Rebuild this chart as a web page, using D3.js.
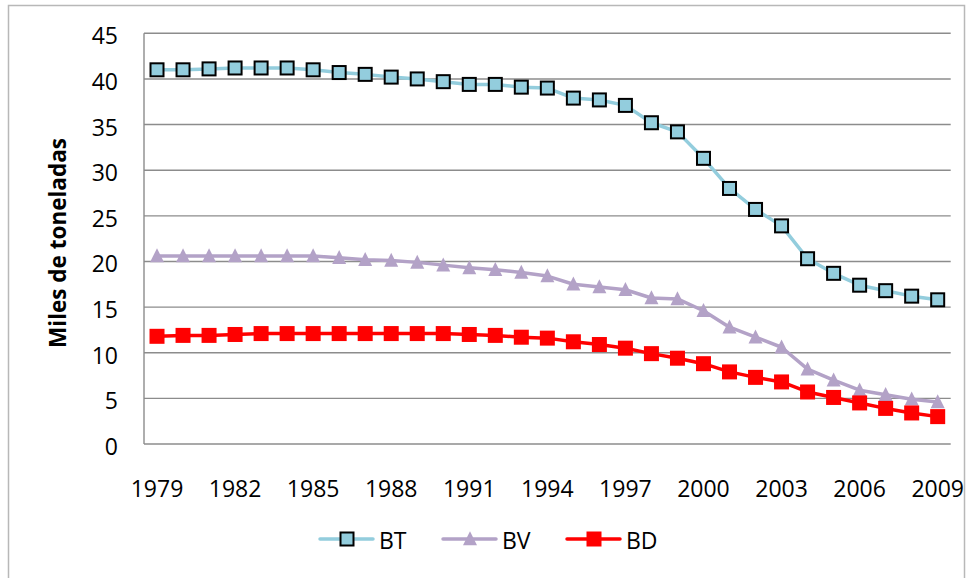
<!DOCTYPE html>
<html>
<head>
<meta charset="utf-8">
<script src="https://cdn.jsdelivr.net/npm/d3@7"></script>
<style>
  body { margin: 0; background: #fff; }
  svg text { font-family: "Open Sans", sans-serif; fill: #000; }
</style>
</head>
<body>
<div id="chart"></div>
<script>
// years on the category axis
var years = d3.range(1979, 2010);

// series values (miles de toneladas)
var bt = [41.0, 41.0, 41.1, 41.2, 41.2, 41.2, 41.0, 40.7, 40.5, 40.2, 40.0, 39.7, 39.4,
          39.4, 39.1, 39.0, 37.9, 37.7, 37.1, 35.2, 34.2, 31.3, 28.0, 25.7, 23.9,
          20.3, 18.7, 17.4, 16.8, 16.2, 15.8];
var bv = [20.6, 20.6, 20.6, 20.6, 20.6, 20.6, 20.6, 20.4, 20.2, 20.1, 19.9, 19.6, 19.3,
          19.1, 18.8, 18.4, 17.5, 17.2, 16.9, 16.0, 15.9, 14.6, 12.8, 11.7, 10.6,
          8.2, 7.0, 5.9, 5.4, 4.9, 4.6];
var bd = [11.8, 11.9, 11.9, 12.0, 12.1, 12.1, 12.1, 12.1, 12.1, 12.1, 12.1, 12.1, 12.0,
          11.9, 11.7, 11.6, 11.2, 10.9, 10.5, 9.9, 9.4, 8.8, 7.9, 7.3, 6.8,
          5.7, 5.1, 4.5, 3.9, 3.4, 3.0];

var yTicks = [0, 5, 10, 15, 20, 25, 30, 35, 40, 45];
var xLabels = years.filter(function(d){ return (d - 1979) % 3 == 0; });

var seriesNames = ['BT', 'BV', 'BD'];

var W = 969, H = 578;

var svg = d3.select('#chart').append('svg')
    .attr('width', W)
    .attr('height', H);

// outer chart border
svg.append('rect')
    .attr('x', 8.5).attr('y', 5.5)
    .attr('width', 956).attr('height', 580)
    .attr('fill', '#fff')
    .attr('stroke', '#b8b8b8')
    .attr('stroke-width', 1.5);

var x = d3.scaleBand().domain(years).range([144, 950.7]);
var y = d3.scaleLinear().domain([0, 45]).range([444, 33.3]);

function cx(d){ return x(d) + x.bandwidth() / 2; }

// gridlines
svg.append('g')
    .selectAll('line')
    .data(yTicks)
    .enter().append('line')
        .attr('x1', 144).attr('x2', 950.7)
        .attr('y1', function(d){ return y(d); })
        .attr('y2', function(d){ return y(d); })
        .attr('stroke', '#8c8c8c')
        .attr('stroke-width', 1.4);

// left axis line
svg.append('line')
    .attr('x1', 144).attr('x2', 144)
    .attr('y1', y(45)).attr('y2', y(0))
    .attr('stroke', '#8c8c8c')
    .attr('stroke-width', 1.4);

// y tick labels
svg.append('g')
    .selectAll('text')
    .data(yTicks)
    .enter().append('text')
        .attr('x', 118)
        .attr('y', function(d){ return y(d) + 2; })
        .attr('text-anchor', 'end')
        .attr('dominant-baseline', 'central')
        .attr('font-size', 23)
        .text(function(d){ return d; });

// x tick labels
svg.append('g')
    .selectAll('text')
    .data(xLabels)
    .enter().append('text')
        .attr('x', function(d){ return cx(d); })
        .attr('y', 497)
        .attr('text-anchor', 'middle')
        .attr('font-size', 23)
        .text(function(d){ return d; });

// axis title
svg.append('text')
    .attr('transform', 'translate(66,243) rotate(-90)')
    .attr('text-anchor', 'middle')
    .attr('font-size', 22.5)
    .attr('font-weight', 'bold')
    .text('Miles de toneladas');

var styles = {
    BT: { data: bt, color: '#93cddd', marker: 'square', fill: '#93cddd', stroke: '#000', size: 13 },
    BV: { data: bv, color: '#b3a2c7', marker: 'triangle', fill: '#b3a2c7', stroke: 'none', size: 14 },
    BD: { data: bd, color: '#ff0000', marker: 'square', fill: '#ff0000', stroke: 'none', size: 15 }
};

var line = d3.line()
    .x(function(d){ return cx(d.year); })
    .y(function(d){ return y(d.value); });

function drawMarker(g, s, px, py){
    if(s.marker == 'square'){
        g.append('rect')
            .attr('x', px - s.size / 2).attr('y', py - s.size / 2)
            .attr('width', s.size).attr('height', s.size)
            .attr('fill', s.fill)
            .attr('stroke', s.stroke)
            .attr('stroke-width', s.stroke == 'none' ? 0 : 2);
    } else{
        var h = s.size;
        g.append('path')
            .attr('d', 'M' + px + ',' + (py - h * 0.55) + 'L' + (px + h / 2) + ',' + (py + h * 0.45) +
                       'L' + (px - h / 2) + ',' + (py + h * 0.45) + 'Z')
            .attr('fill', s.fill);
    }
}

// series lines and markers
seriesNames.forEach(function(name){
    var s = styles[name];
    var pts = years.map(function(yr, i){ return { year: yr, value: s.data[i] }; });
    var g = svg.append('g');
    g.append('path')
        .attr('d', line(pts))
        .attr('fill', 'none')
        .attr('stroke', s.color)
        .attr('stroke-width', 3.5)
        .attr('stroke-linejoin', 'round');
    pts.forEach(function(p){ drawMarker(g, s, cx(p.year), y(p.value)); });
});

// legend
var legendX = { BT: 320, BV: 443, BD: 567 };
seriesNames.forEach(function(name){
    var s = styles[name];
    var g = svg.append('g');
    var lx = legendX[name], ly = 539;
    g.append('line')
        .attr('x1', lx).attr('x2', lx + 53)
        .attr('y1', ly).attr('y2', ly)
        .attr('stroke', s.color)
        .attr('stroke-width', 3.5)
        .attr('stroke-linecap', 'round');
    drawMarker(g, s, lx + 27, ly);
    g.append('text')
        .attr('x', lx + 59)
        .attr('y', 549)
        .attr('font-size', 23)
        .text(name);
});
</script>
</body>
</html>
